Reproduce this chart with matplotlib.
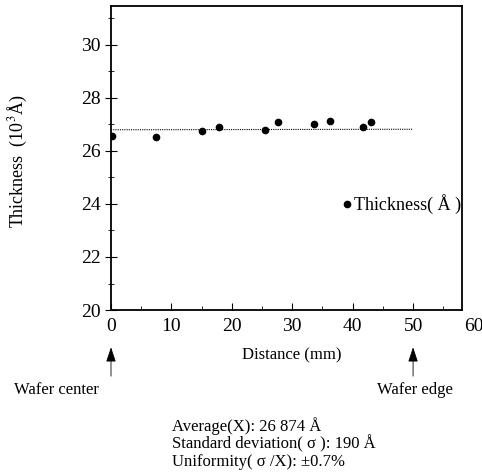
import numpy as np
import matplotlib.pyplot as plt
from matplotlib.ticker import MultipleLocator

plt.rcParams['font.family'] = ['Liberation Serif', 'DejaVu Serif']
plt.rcParams['mathtext.fontset'] = 'stix'

# measured points (distance from wafer center in mm, thickness in 10^3 A)
distance = [0.1, 7.5, 15.0, 17.8, 25.5, 27.6, 33.6, 36.2, 41.7, 43.1]
thickness = [26.58, 26.53, 26.77, 26.89, 26.80, 27.09, 27.03, 27.12, 26.92, 27.08]

# dotted trend line
trend_x = [0, 50]
trend_y = [26.80, 26.82]

stats = ['Average(X): 26 874 Å',
         'Standard deviation( σ ): 190 Å',
         'Uniformity( σ /X): ±0.7%']

fig = plt.figure(figsize=(4.82, 4.73), dpi=100)
ax = fig.add_axes([0.2303, 0.3446, 0.7282, 0.6427])

ax.plot(trend_x, trend_y, color='black', linestyle=(0, (1, 1)), linewidth=0.8)
ax.plot(distance, thickness, 'o', color='black', markersize=4.5)

# legend drawn by hand like the original
ax.plot([39], [24.0], 'o', color='black', markersize=4.5)
ax.text(40.3, 24.0, 'Thickness( Å )', fontsize=13, va='center', ha='left')

ax.set_xlim(0, 58.1)
ax.set_ylim(20, 31.47)
ax.set_xticks(range(0, 51, 10))
ax.set_yticks(range(20, 31, 2))
ax.xaxis.set_minor_locator(MultipleLocator(5))
ax.yaxis.set_minor_locator(MultipleLocator(1))
ax.tick_params(axis='x', which='both', direction='in', labelsize=14, pad=6)
ax.tick_params(axis='x', which='major', length=5)
ax.tick_params(axis='x', which='minor', length=3)
ax.tick_params(axis='y', which='both', direction='inout', labelsize=14)
ax.tick_params(axis='y', which='major', length=8)
ax.tick_params(axis='y', which='minor', length=5)
ax.text(60, 19.7, '60', fontsize=14, ha='center', va='top', clip_on=False)
for s in ax.spines.values():
    s.set_linewidth(1.3)

fig.text(0.037, 0.66, 'Thickness  (10$^3$Å)', rotation=90, fontsize=13,
         ha='center', va='center')
fig.text(0.605, 0.249, 'Distance (mm)', fontsize=12, ha='center', va='center')

# wafer center / edge arrows
for xd, label, lx in [(0, 'Wafer center', 0.118), (50, 'Wafer edge', 0.861)]:
    ax.annotate('', xy=(xd, 20 - 1.3), xytext=(xd, 20 - 2.6),
                xycoords='data', annotation_clip=False,
                arrowprops=dict(arrowstyle='-|>,head_length=0.9,head_width=0.3',
                                color='black', lw=0.6))
    fig.text(lx, 0.175, label, fontsize=12, ha='center', va='center')

for i, line in enumerate(stats):
    fig.text(0.357, 0.099 - i * 0.038, line, fontsize=12, ha='left', va='center')

fig.savefig('out.png', dpi=100)
